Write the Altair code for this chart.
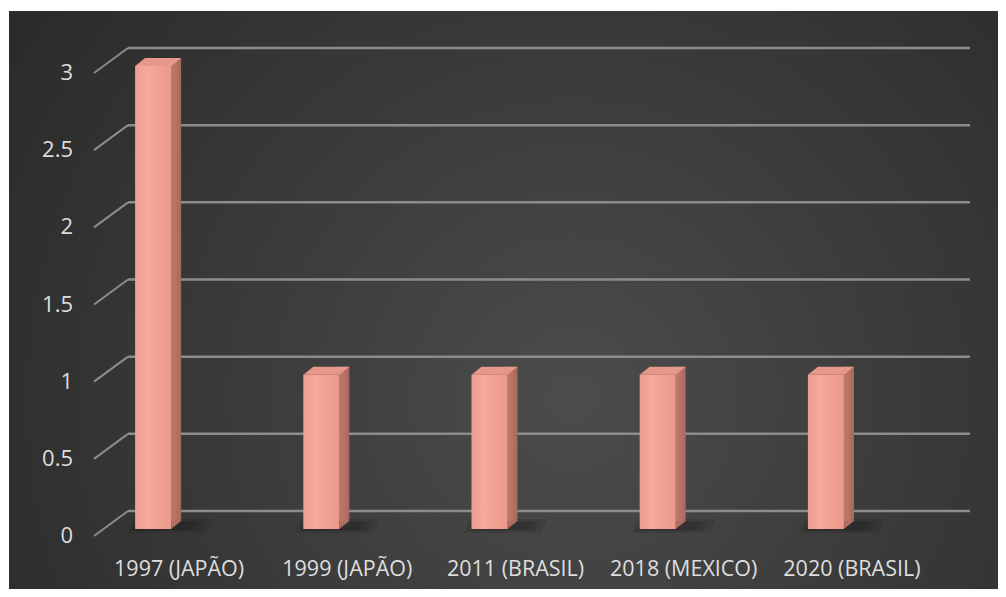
import altair as alt
import pandas as pd

# ---- data ----
categories = ["1997 (JAPÃO)", "1999 (JAPÃO)", "2011 (BRASIL)", "2018 (MEXICO)", "2020 (BRASIL)"]
values = [3, 1, 1, 1, 1]
tick_values = [0, 0.5, 1, 1.5, 2, 2.5, 3]
tick_labels = ["0", "0.5", "1", "1.5", "2", "2.5", "3"]

df = pd.DataFrame({"cat": categories, "val": values, "zero": [0] * len(values)})
ticks = pd.DataFrame({"val": tick_values, "lab": tick_labels})

W, H = 841, 463
FONT = "Open Sans"
TXT = "#dedede"
GRID = "#8c8c8c"

X = alt.X("cat:N", sort=categories, axis=None,
          scale=alt.Scale(paddingInner=0, paddingOuter=0))
Ysc = alt.Scale(domain=[0, 3], nice=False, zero=True)
Y = alt.Y("val:Q", scale=Ysc, axis=None)
Y2 = alt.Y2("zero:Q")
YZ = alt.Y("zero:Q", scale=Ysc, axis=None)

# background panel with radial gradient
bg = alt.Chart(alt.Data(values=[{}])).mark_rect(
    color=alt.Gradient(
        gradient="radial",
        stops=[alt.GradientStop(color="#4c4c4c", offset=0),
               alt.GradientStop(color="#3a3a3a", offset=0.45),
               alt.GradientStop(color="#262626", offset=1)],
        x1=0.57, y1=0.6, r1=0, x2=0.57, y2=0.6, r2=0.78)
).encode(x=alt.value(-60), x2=alt.value(929), y=alt.value(-37), y2=alt.value(541))

# back-wall gridlines
grid = alt.Chart(ticks).mark_rule(color=GRID, strokeWidth=2.5).encode(
    y=Y, x=alt.value(59), x2=alt.value(901))

# side-wall diagonals
diag = alt.Chart(ticks).mark_rule(color=GRID, strokeWidth=2, yOffset=25, y2Offset=0).encode(
    y=Y, y2=alt.Y2("val:Q"), x=alt.value(25), x2=alt.value(59))

# y tick labels
ylab = alt.Chart(ticks).mark_text(font=FONT, fontSize=22, color=TXT, align="right",
                                  baseline="middle", yOffset=25).encode(
    y=Y, x=alt.value(4), text="lab:N")

OFF = 18
# soft floor shadows (several translucent layers)
shadow_shapes = [
    "M-2.6,0.4L5.2,0.4L5.8,-1.0L-2.0,-1.0Z",
    "M-2.2,0.2L4.4,0.2L5.0,-0.8L-1.6,-0.8Z",
    "M-2.0,0.1L3.8,0.1L4.3,-0.7L-1.2,-0.7Z",
]
shadows = [
    alt.Chart(df).mark_point(shape=s, size=400, filled=True, color="#000000",
                             opacity=0.09, strokeWidth=0, yOffset=OFF).encode(x=X, y=YZ)
    for s in shadow_shapes
]

# side faces
side = alt.Chart(df).mark_bar(
    width=10, xOffset=23, yOffset=OFF - 8, y2Offset=OFF - 8,
    color=alt.Gradient(gradient="linear",
                       stops=[alt.GradientStop(color="#c07b70", offset=0),
                              alt.GradientStop(color="#a9685d", offset=1)],
                       x1=0, x2=1, y1=0, y2=0)).encode(x=X, y=Y, y2=Y2)

side_bottom = alt.Chart(df).mark_point(
    shape="M1.8,0L1.8,-0.8L2.8,-0.8Z", size=400, filled=True,
    color="#b06e63", opacity=1, strokeWidth=0, yOffset=OFF).encode(x=X, y=YZ)

# front faces
front = alt.Chart(df).mark_bar(
    width=36, yOffset=OFF, y2Offset=OFF,
    color=alt.Gradient(gradient="linear",
                       stops=[alt.GradientStop(color="#ee9e91", offset=0),
                              alt.GradientStop(color="#f6a89b", offset=0.35),
                              alt.GradientStop(color="#eb9a8d", offset=1)],
                       x1=0, x2=1, y1=0, y2=0)).encode(x=X, y=Y, y2=Y2)

# top faces
top = alt.Chart(df).mark_point(
    shape="M-1.8,0L1.8,0L2.8,-0.8L-0.8,-0.8Z", size=400, filled=True,
    color="#e8978b", opacity=1, strokeWidth=0, yOffset=OFF).encode(x=X, y=Y)

# category labels
xlab = alt.Chart(df).mark_text(font=FONT, fontSize=21.5, color=TXT, align="center",
                               baseline="middle", xOffset=26).encode(
    x=X, y=alt.value(522), text="cat:N")

chart = alt.layer(bg, grid, diag, ylab, *shadows, side, side_bottom, front, top, xlab).properties(
    width=W, height=H,
    autosize=alt.AutoSizeParams(type="none"),
    padding={"left": 61, "top": 40, "right": 88, "bottom": 78},
    background="#ffffff",
).configure_view(stroke=None)

chart.save("out.html", embed_options={"renderer": "svg", "actions": False})
